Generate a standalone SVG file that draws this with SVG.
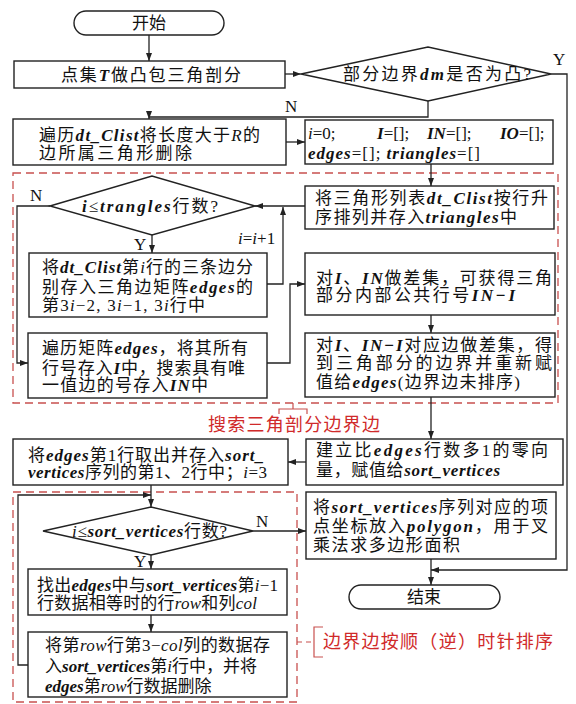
<svg xmlns="http://www.w3.org/2000/svg" width="576" height="704" viewBox="0 0 576 704">
<defs>
<marker id="ah" viewBox="0 0 8 8" markerWidth="8" markerHeight="8" refX="8" refY="4" orient="auto" markerUnits="userSpaceOnUse"><path d="M0,1 L8,4 L0,7 z" fill="#222"/></marker>
</defs>
<style>
.box{fill:#fff;stroke:#222;stroke-width:1.4}
.t{font-family:"Liberation Serif","Noto Sans CJK SC",serif;font-size:17px;fill:#111}
.b{font-weight:bold;font-style:italic}
.i{font-style:italic}
.c{fill:none;stroke:#222;stroke-width:1.3}
.a{marker-end:url(#ah)}
.rd{fill:none;stroke:#c8504f;stroke-width:1.3;stroke-dasharray:8 5}
.rl{fill:none;stroke:#c8504f;stroke-width:1.2}
.rt{font-family:"Liberation Serif","Noto Sans CJK SC",serif;font-size:18px;fill:#d02a2a}
.lb{font-family:"Liberation Serif","Noto Sans CJK SC",serif;font-size:17px;fill:#111}
</style>
<rect width="576" height="704" fill="#fff"/>

<g id="groups">
<rect class="rd" x="13" y="173" width="545" height="230"/>
<rect class="rd" x="13" y="492" width="284" height="210"/>
</g>

<g id="connectors">
<path class="c a" d="M149,35 V61"/>
<path class="c a" d="M285,74 H301"/>
<path class="c a" d="M551,74 H567 V570 H431"/>
<path class="c a" d="M428,101 V117 H149 V119"/>
<path class="c a" d="M286,142 H305"/>
<path class="c a" d="M431,164 V186"/>
<path class="c a" d="M305,206 H255"/>
<path class="c a" d="M50,206 H17 V363 H28"/>
<path class="c a" d="M152,235 V253"/>
<path class="c a" d="M267,284 H283 V207"/>
<path class="c a" d="M267,363 H290 V284 H305"/>
<path class="c a" d="M431,315 V333"/>
<path class="c a" d="M431,397 V439"/>
<path class="c a" d="M306,462 H288"/>
<path class="c a" d="M151,485 V507"/>
<path class="c a" d="M28,665 H18 V495 H151"/>
<path class="c a" d="M253,531 H306"/>
<path class="c a" d="M151,555 V569"/>
<path class="c a" d="M151,615 V632"/>
<path class="c a" d="M431,559 V585"/>
<text class="lb" x="553" y="65">Y</text>
<text class="lb" x="285" y="112">N</text>
<text class="lb" x="30" y="201">N</text>
<text class="lb" x="134" y="250">Y</text>
<text class="lb" x="238" y="244"><tspan class="i">i</tspan>=<tspan class="i">i</tspan>+1</text>
<text class="lb" x="256" y="527">N</text>
<text class="lb" x="134" y="567">Y</text>
</g>

<g id="start">
<rect class="box" x="74" y="11" width="150" height="24" rx="12"/>
<text class="t" x="149" y="29" text-anchor="middle" font-size="18">开始</text>
</g>

<g id="triangulate">
<rect class="box" x="14" y="61" width="271" height="27"/>
<text class="t" x="61" y="81" textLength="180" lengthAdjust="spacing">点集<tspan class="b">T</tspan>做凸包三角剖分</text>
</g>

<g id="convex-check">
<polygon class="box" points="301,74 428,47 551,74 428,101"/>
<text class="t" x="343" y="80" textLength="188" lengthAdjust="spacing">部分边界<tspan class="b">dm</tspan>是否为凸?</text>
</g>

<g id="delete-long">
<rect class="box" x="13" y="119" width="273" height="46"/>
<text class="t" x="39" y="141" textLength="221" lengthAdjust="spacing">遍历<tspan class="b">dt_Clist</tspan>将长度大于<tspan class="i">R</tspan>的</text>
<text class="t" x="39" y="159" textLength="153" lengthAdjust="spacing">边所属三角形删除</text>
</g>

<g id="init">
<rect class="box" x="305" y="120" width="248" height="44"/>
<text class="t" x="308" y="139"><tspan class="i">i</tspan>=0;</text>
<text class="t" x="377" y="139"><tspan class="b">I</tspan>=[];</text>
<text class="t" x="427" y="139"><tspan class="b">IN</tspan>=[];</text>
<text class="t" x="500" y="139"><tspan class="b">IO</tspan>=[];</text>
<text class="t" x="308" y="159" textLength="172" lengthAdjust="spacing"><tspan class="b">edges</tspan>=[]; <tspan class="b">triangles</tspan>=[]</text>
</g>

<g id="sort-triangles">
<rect class="box" x="305" y="186" width="249" height="43"/>
<text class="t" x="315" y="204" textLength="233" lengthAdjust="spacing">将三角形列表<tspan class="b">dt_Clist</tspan>按行升</text>
<text class="t" x="315" y="223" textLength="202" lengthAdjust="spacing">序排列并存入<tspan class="b">triangles</tspan>中</text>
</g>

<g id="loop1-check">
<polygon class="box" points="50,206 152,176 255,206 152,235"/>
<text class="t" x="82" y="212" textLength="136" lengthAdjust="spacing"><tspan class="b">i</tspan>≤<tspan class="b">trangles</tspan>行数?</text>
</g>

<g id="store-edges">
<rect class="box" x="29" y="253" width="238" height="64"/>
<text class="t" x="42" y="273" textLength="211" lengthAdjust="spacing">将<tspan class="b">dt_Clist</tspan>第<tspan class="i">i</tspan>行的三条边分</text>
<text class="t" x="42" y="293" textLength="211" lengthAdjust="spacing">别存入三角边矩阵<tspan class="b">edges</tspan>的</text>
<text class="t" x="42" y="311" textLength="163" lengthAdjust="spacing">第3<tspan class="i">i</tspan>−2, 3<tspan class="i">i</tspan>−1, 3<tspan class="i">i</tspan>行中</text>
</g>

<g id="traverse-edges">
<rect class="box" x="28" y="333" width="239" height="65"/>
<text class="t" x="42" y="354" textLength="206" lengthAdjust="spacing">遍历矩阵<tspan class="b">edges</tspan>，将其所有</text>
<text class="t" x="42" y="374" textLength="203" lengthAdjust="spacing">行号存入<tspan class="b">I</tspan>中，搜索具有唯</text>
<text class="t" x="42" y="391" textLength="166" lengthAdjust="spacing">一值边的号存入<tspan class="b">IN</tspan>中</text>
</g>

<g id="diff1">
<rect class="box" x="305" y="253" width="250" height="62"/>
<text class="t" x="316" y="284" textLength="236" lengthAdjust="spacing">对<tspan class="b">I</tspan>、<tspan class="b">IN</tspan>做差集，可获得三角</text>
<text class="t" x="316" y="301" textLength="199" lengthAdjust="spacing">部分内部公共行号<tspan class="b">IN−I</tspan></text>
</g>

<g id="diff2">
<rect class="box" x="305" y="333" width="250" height="64"/>
<text class="t" x="316" y="351" textLength="236" lengthAdjust="spacing">对<tspan class="b">I</tspan>、<tspan class="b">IN−I</tspan>对应边做差集，得</text>
<text class="t" x="316" y="369" textLength="236" lengthAdjust="spacing">到三角部分的边界并重新赋</text>
<text class="t" x="316" y="388" textLength="204" lengthAdjust="spacing">值给<tspan class="b">edges</tspan>(边界边未排序)</text>
</g>

<g id="label-search">
<path class="rl" d="M279,414 V409 H307 V414 M293,409 V403"/>
<text class="rt" x="208" y="431" textLength="172" lengthAdjust="spacing">搜索三角剖分边界边</text>
</g>

<g id="zero-vector">
<rect class="box" x="306" y="439" width="257" height="46"/>
<text class="t" x="316" y="456" textLength="232" lengthAdjust="spacing">建立比<tspan class="b">edges</tspan>行数多1的零向</text>
<text class="t" x="316" y="476" textLength="184" lengthAdjust="spacing">量，赋值给<tspan class="b">sort_vertices</tspan></text>
</g>

<g id="first-row">
<rect class="box" x="13" y="439" width="275" height="46"/>
<text class="t" x="28" y="461" textLength="236" lengthAdjust="spacing">将<tspan class="b">edges</tspan>第1行取出并存入<tspan class="b">sort_</tspan></text>
<text class="t" x="28" y="478" textLength="239" lengthAdjust="spacing"><tspan class="b">vertices</tspan>序列的第1、2行中；<tspan class="i">i</tspan>=3</text>
</g>

<g id="loop2-check">
<polygon class="box" points="43,531 151,507 253,531 151,555"/>
<text class="t" x="72" y="537" textLength="155" lengthAdjust="spacing"><tspan class="i">i</tspan>≤<tspan class="b">sort_vertices</tspan>行数?</text>
</g>

<g id="polygon-area">
<rect class="box" x="306" y="492" width="250" height="67"/>
<text class="t" x="313" y="513" textLength="235" lengthAdjust="spacing">将<tspan class="b">sort_vertices</tspan>序列对应的项</text>
<text class="t" x="313" y="532" textLength="235" lengthAdjust="spacing">点坐标放入<tspan class="b">polygon</tspan>，用于叉</text>
<text class="t" x="313" y="551" textLength="147" lengthAdjust="spacing">乘法求多边形面积</text>
</g>

<g id="end">
<rect class="box" x="349" y="585" width="151" height="24" rx="12"/>
<text class="t" x="424" y="603" text-anchor="middle" font-size="18">结束</text>
</g>

<g id="find-row">
<rect class="box" x="28" y="569" width="259" height="46"/>
<text class="t" x="37" y="591" textLength="241" lengthAdjust="spacing">找出<tspan class="b">edges</tspan>中与<tspan class="b">sort_vertices</tspan>第<tspan class="i">i</tspan>−1</text>
<text class="t" x="37" y="609" textLength="220" lengthAdjust="spacing">行数据相等时的行<tspan class="i">row</tspan>和列<tspan class="i">col</tspan></text>
</g>

<g id="store-vertex">
<rect class="box" x="28" y="632" width="259" height="65"/>
<text class="t" x="45" y="651" textLength="225" lengthAdjust="spacing">将第<tspan class="i">row</tspan>行第3−<tspan class="i">col</tspan>列的数据存</text>
<text class="t" x="45" y="672" textLength="212" lengthAdjust="spacing">入<tspan class="b">sort_vertices</tspan>第<tspan class="i">i</tspan>行中，并将</text>
<text class="t" x="45" y="692"><tspan class="b">edges</tspan>第<tspan class="i">row</tspan>行数据删除</text>
</g>

<g id="label-sort">
<path class="rl" d="M297,642 H313" stroke-dasharray="5 4"/>
<path class="rl" d="M323,627 H314 V657 H323"/>
<text class="rt" x="323" y="648" textLength="230" lengthAdjust="spacing">边界边按顺（逆）时针排序</text>
</g>
</svg>
